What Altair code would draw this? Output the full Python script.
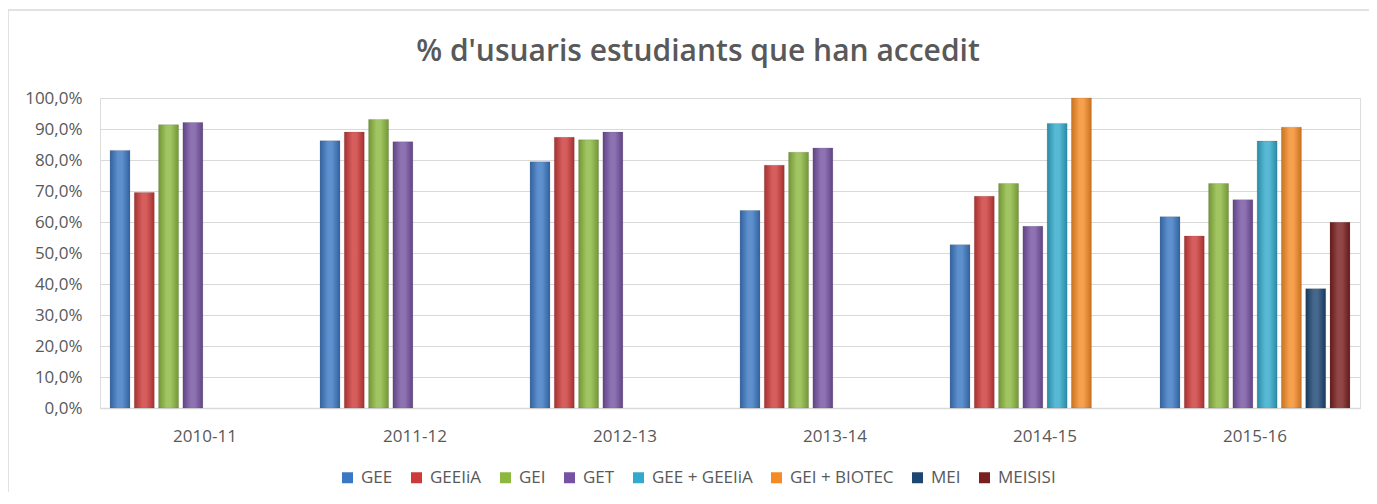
import altair as alt
import pandas as pd

# ---- data ----
years = ["2010-11", "2011-12", "2012-13", "2013-14", "2014-15", "2015-16"]
series = ["GEE", "GEEIiA", "GEI", "GET", "GEE + GEEIiA", "GEI + BIOTEC", "MEI", "MEISISI"]

gee = [83.1, 86.2, 79.4, 63.7, 52.7, 61.7]
geeiia = [69.5, 89.0, 87.3, 78.3, 68.3, 55.5]
gei = [91.4, 93.1, 86.5, 82.5, 72.4, 72.4]
get_ = [92.1, 85.9, 89.0, 83.9, 58.6, 67.2]
gee_geeiia = [None, None, None, None, 91.8, 86.1]
gei_biotec = [None, None, None, None, 100.0, 90.6]
mei = [None, None, None, None, None, 38.5]
meisisi = [None, None, None, None, None, 59.9]

colors = ["#3B78C4", "#CC3B3A", "#8DB840", "#7553A2",
          "#33AACB", "#F58B26", "#1E4673", "#7A1F1F"]

rows = []
for s, vals in zip(series, [gee, geeiia, gei, get_, gee_geeiia, gei_biotec, mei, meisisi]):
    for yr, v in zip(years, vals):
        if v is not None:
            rows.append({"curs": yr, "titulacio": s, "pct": v})
df = pd.DataFrame(rows)

FONT = "Open Sans"
TXT = "#595959"
W, H = 1260, 310
PL, PT = 92, 90
TOTAL_W, TOTAL_H = 1361, 484

x_enc = alt.X(
    "curs:N", sort=years,
    scale=alt.Scale(paddingInner=0.075, paddingOuter=0.0375),
    axis=alt.Axis(title=None, labelAngle=0, ticks=False, domainColor="#d9d9d9",
                  domainWidth=1.5, labelPadding=20, labelFontSize=17,
                  labelColor=TXT, labelFont=FONT),
)
xoff_enc = alt.XOffset(
    "titulacio:N", sort=series,
    scale=alt.Scale(domain=series, paddingInner=0.18, paddingOuter=0.09),
)
y_enc = alt.Y(
    "pct:Q",
    scale=alt.Scale(domain=[0, 100], nice=False),
    axis=alt.Axis(title=None, values=list(range(0, 101, 10)),
                  labelExpr="replace(format(datum.value, '.1f'), '.', ',') + '%'",
                  domain=False, ticks=False, gridColor="#d9d9d9", gridWidth=1,
                  labelPadding=18, labelFontSize=17, labelColor=TXT, labelFont=FONT),
)

frame = alt.Chart(alt.Data(values=[{"k": 1}])).mark_rect(
    fillOpacity=0, stroke="#d9d9d9", strokeWidth=1.5
).encode(
    x=alt.value(-PL), x2=alt.value(TOTAL_W + 40),
    y=alt.value(-PT + 2), y2=alt.value(TOTAL_H + 40),
)

bars = alt.Chart(df).mark_bar(stroke="#333333", strokeOpacity=0.25, strokeWidth=0.6).encode(
    x=x_enc, xOffset=xoff_enc, y=y_enc,
    color=alt.Color(
        "titulacio:N", sort=series,
        scale=alt.Scale(domain=series, range=colors),
        legend=alt.Legend(title=None, orient="none", legendX=239, legendY=371,
                          direction="horizontal", columns=8, symbolType="square",
                          symbolSize=121, symbolStrokeWidth=0, labelFontSize=17,
                          labelColor=TXT, labelFont=FONT, columnPadding=15,
                          labelOffset=5),
    ),
)

shade = alt.Chart(df).mark_bar(
    color=alt.LinearGradient(
        gradient="linear", x1=0, x2=1, y1=0, y2=0,
        stops=[alt.GradientStop(offset=0, color="#000000"),
               alt.GradientStop(offset=0.4, color="#ffffff"),
               alt.GradientStop(offset=0.6, color="#ffffff"),
               alt.GradientStop(offset=1, color="#000000")],
    ),
    fillOpacity=0.18,
).encode(x=x_enc, xOffset=xoff_enc, y=y_enc)

chart = alt.layer(frame, bars, shade).properties(
    width=W, height=H,
    autosize="none",
    padding={"left": PL, "top": PT, "right": TOTAL_W - PL - W, "bottom": TOTAL_H - PT - H},
    title=alt.TitleParams("% d'usuaris estudiants que han accedit", fontSize=30,
                          font=FONT, fontWeight=600, color=TXT, anchor="middle",
                          dx=-32, dy=88, offset=30),
).configure_view(stroke=None).configure(background="white")

chart.save("out.html", embed_options={"renderer": "svg", "actions": False})
